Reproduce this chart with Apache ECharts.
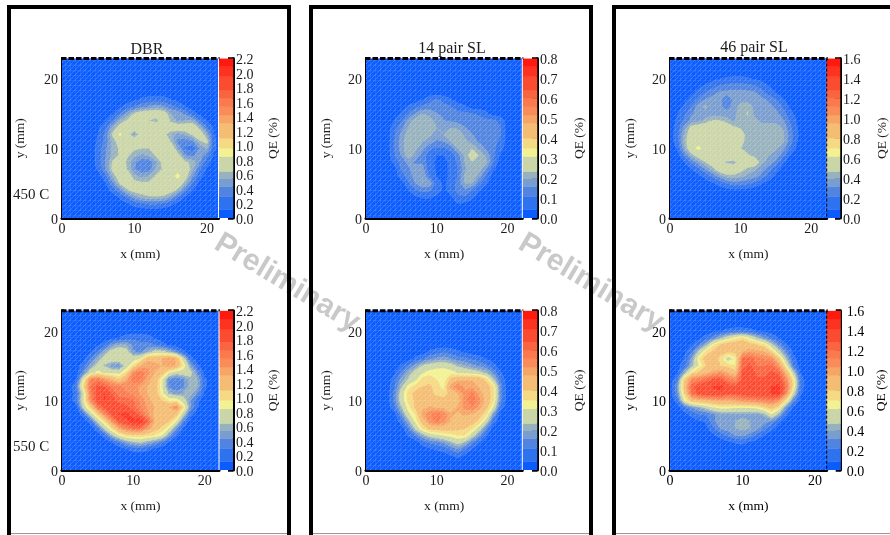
<!DOCTYPE html>
<html><head><meta charset="utf-8">
<style>html,body{margin:0;padding:0;background:#fff}#c{width:890px;height:535px}</style>
<script src="https://cdn.jsdelivr.net/npm/echarts@6/dist/echarts.min.js"></script>
</head><body><div id="c"></div>
<script>
// QE (%) samples. Each row: [y mm, first x mm, values at 1 mm steps...]; everything else is 0.
const qeDbr450 = [
[17,10,.08,.15,.2,.2,.2,.12,.05],
[16,8,.08,.2,.3,.4,.45,.5,.45,.35,.25,.12],
[15,7,.1,.3,.5,.66,.74,.76,.76,.74,.55,.52,.4,.2,.05],
[14,6,.1,.3,.55,.66,.76,.8,.64,.58,.78,.62,.52,.55,.55,.3,.1],
[13,5,.08,.25,.55,.72,.75,.75,.8,.8,.8,.8,.72,.75,.75,.78,.6,.3,.08],
[12,5,.12,.35,.66,.88,.7,.52,.75,.8,.78,.68,.58,.5,.55,.66,.75,.55,.12],
[11,5,.15,.35,.58,.72,.78,.78,.75,.72,.66,.72,.64,.4,.35,.4,.62,.68,.15],
[10,5,.2,.4,.58,.66,.66,.66,.64,.64,.74,.8,.78,.52,.28,.2,.45,.56,.15],
[9,5,.2,.42,.58,.66,.66,.58,.52,.56,.66,.78,.8,.7,.45,.4,.5,.35,.08],
[8,5,.2,.44,.66,.72,.62,.45,.34,.34,.52,.7,.8,.75,.66,.62,.45,.2],
[7,5,.15,.42,.68,.74,.64,.44,.34,.36,.56,.66,.78,.8,.74,.58,.3,.08],
[6,6,.25,.56,.74,.74,.58,.52,.56,.66,.66,.78,.88,.72,.45,.18],
[5,6,.1,.4,.66,.74,.68,.66,.66,.66,.75,.8,.78,.58,.3,.05],
[4,7,.2,.4,.62,.7,.72,.74,.78,.78,.72,.6,.35,.12],
[3,8,.15,.32,.5,.58,.62,.62,.6,.5,.3,.1],
[2,9,.08,.18,.25,.3,.3,.25,.15,.05]
];
const qeDbr550 = [
[19,7,.05,.12,.2,.25,.25,.2,.1],
[18,5,.08,.2,.45,.55,.55,.4,.32,.35,.3,.2,.08],
[17,4,.1,.3,.55,.72,.78,.72,.45,.4,.55,.7,.7,.6,.4,.15],
[16,3,.05,.3,.55,.72,.78,.8,.8,.75,.85,1.25,1.25,1.3,1.4,1.3,.75,.2],
[15,2,.03,.2,.5,.7,.62,.45,.42,.72,1.0,1.3,1.4,1.35,1.3,1.4,1.3,.95,.5,.15],
[14,3,.4,.75,.9,.8,.78,.78,1.0,1.5,1.6,1.45,1.3,1.2,.85,.7,.75,.7,.4,.05],
[13,2,.1,.85,1.55,1.6,1.45,1.3,1.1,1.35,1.6,1.6,1.35,1.25,.85,.4,.32,.4,.6,.55,.15],
[12,2,.3,1.0,1.65,1.8,1.75,1.6,1.55,1.5,1.45,1.4,1.3,1.2,.85,.4,.3,.4,.6,.55,.15],
[11,2,.2,.75,1.55,1.85,1.95,1.75,1.6,1.55,1.5,1.4,1.3,1.2,.9,.6,.5,.55,.6,.4,.08],
[10,2,.25,.8,1.5,1.85,1.95,1.85,1.7,1.7,1.65,1.5,1.35,1.25,1.1,.95,.95,.75,.45,.15],
[9,3,.7,1.05,1.6,1.8,1.85,1.85,1.8,1.7,1.55,1.4,1.3,1.2,1.3,1.5,1.0,.45,.12],
[8,3,.2,.7,1.05,1.5,1.8,1.95,2.0,1.85,1.7,1.45,1.25,1.2,1.25,1.15,.7,.2],
[7,4,.2,.7,1.0,1.45,1.8,1.9,2.0,2.05,1.75,1.3,1.2,1.1,.85,.35],
[6,5,.25,.7,1.0,1.35,1.55,1.65,1.65,1.4,1.2,1.05,.85,.45,.1],
[5,6,.2,.6,.85,1.0,1.05,1.05,1.0,.95,.85,.5,.15],
[4,7,.12,.3,.5,.6,.65,.55,.45,.3,.1],
[3,9,.1,.18,.2,.15,.05]
];
const qeSl14450 = [
[17,8,.04,.08,.12,.08,.05],
[16,6,.05,.09,.12,.14,.14,.13,.11,.08,.05],
[15,5,.05,.11,.16,.2,.18,.16,.15,.13,.12,.12,.11,.1,.06],
[14,4,.04,.1,.18,.22,.23,.22,.18,.16,.15,.14,.13,.12,.12,.12,.12,.09],
[13,4,.08,.14,.2,.22,.23,.23,.2,.17,.2,.19,.16,.14,.13,.12,.12,.11],
[12,4,.1,.17,.22,.23,.23,.21,.18,.2,.23,.23,.19,.16,.14,.13,.12,.11],
[11,4,.11,.18,.23,.23,.2,.18,.15,.16,.2,.23,.21,.18,.15,.13,.12,.1],
[10,4,.11,.18,.23,.21,.17,.12,.1,.1,.13,.2,.23,.23,.19,.15,.12,.07],
[9,4,.1,.16,.23,.18,.14,.07,.04,.04,.07,.14,.21,.26,.23,.19,.12,.03],
[8,4,.06,.13,.17,.15,.15,.06,.03,.03,.05,.12,.2,.23,.23,.21,.11],
[7,5,.11,.15,.18,.18,.07,.03,.03,.05,.11,.19,.23,.22,.15,.05],
[6,5,.08,.13,.18,.2,.1,.04,.03,.05,.11,.21,.23,.18,.1],
[5,6,.1,.16,.2,.19,.07,.03,.06,.13,.2,.2,.12,.05],
[4,6,.04,.1,.13,.12,.07,.03,.06,.13,.15,.11,.05],
[3,7,.03,.05,.05,.03,0,.03,.09,.1,.06],
[2,13,.04,.02]
];
const qeSl14550 = [
[17,9,.05,.08,.1,.08,.05,.03],
[16,7,.06,.1,.15,.17,.18,.16,.13,.12,.1,.07,.04],
[15,5,.05,.12,.18,.24,.26,.28,.28,.26,.22,.2,.17,.15,.12,.07],
[14,4,.03,.12,.2,.26,.3,.33,.34,.35,.33,.3,.28,.27,.25,.22,.15,.05],
[13,4,.07,.18,.24,.29,.37,.38,.35,.32,.42,.46,.47,.47,.46,.38,.24,.1],
[12,4,.1,.22,.33,.37,.4,.41,.37,.33,.5,.55,.5,.5,.47,.44,.36,.14],
[11,4,.12,.27,.37,.42,.42,.42,.38,.36,.43,.47,.53,.57,.5,.44,.37,.14],
[10,4,.12,.27,.36,.41,.43,.43,.44,.43,.42,.45,.54,.6,.53,.45,.36,.13],
[9,4,.09,.22,.33,.41,.46,.48,.47,.46,.45,.48,.53,.55,.5,.42,.3,.08],
[8,5,.15,.29,.35,.5,.55,.58,.55,.48,.47,.48,.47,.43,.36,.18],
[7,5,.07,.2,.32,.43,.53,.57,.53,.47,.46,.45,.43,.38,.27,.08],
[6,6,.12,.25,.36,.42,.43,.44,.43,.42,.4,.36,.28,.14],
[5,6,.05,.12,.2,.26,.29,.31,.33,.35,.35,.27,.17,.05],
[4,8,.08,.12,.14,.17,.22,.26,.22,.13,.05],
[3,9,.03,.05,.07,.12,.16,.1,.04],
[2,12,.03,.06,.02]
];
const qeSl46450 = [
[20,6,.03,.08,.1,.12,.12,.1,.07,.03],
[19,4,.05,.1,.16,.22,.24,.26,.26,.24,.22,.16,.08],
[18,3,.05,.12,.22,.28,.33,.34,.35,.35,.34,.33,.26,.16,.08],
[17,2,.05,.12,.24,.32,.35,.35,.24,.33,.36,.36,.35,.34,.3,.22,.1],
[16,1,.03,.1,.22,.36,.42,.36,.34,.28,.34,.44,.46,.37,.35,.34,.3,.2,.06],
[15,1,.07,.18,.3,.35,.36,.36,.35,.35,.36,.45,.47,.38,.35,.35,.34,.27,.13,.03],
[14,1,.1,.24,.34,.37,.42,.47,.47,.44,.38,.45,.46,.42,.38,.38,.37,.33,.2,.07],
[13,1,.14,.34,.5,.53,.54,.55,.56,.52,.48,.46,.45,.44,.43,.43,.44,.39,.25,.09],
[12,1,.16,.4,.54,.56,.57,.57,.57,.56,.55,.5,.44,.42,.42,.42,.42,.42,.28,.1],
[11,1,.15,.42,.55,.57,.57,.57,.57,.56,.55,.5,.43,.42,.42,.42,.42,.42,.27,.09],
[10,1,.09,.38,.56,.64,.57,.57,.57,.56,.55,.47,.42,.42,.42,.42,.41,.35,.2,.05],
[9,2,.24,.42,.52,.56,.57,.57,.56,.56,.53,.48,.44,.42,.4,.37,.26,.08],
[8,2,.07,.23,.36,.46,.53,.55,.45,.43,.52,.55,.54,.42,.36,.29,.11],
[7,3,.07,.18,.31,.42,.54,.56,.55,.5,.44,.41,.35,.27,.13,.03],
[6,4,.04,.13,.24,.35,.43,.44,.42,.38,.35,.28,.16,.05],
[5,6,.06,.13,.22,.28,.27,.24,.18,.09,.02],
[4,8,.03,.05,.05,.03]
];
const qeSl46550 = [
[20,6,.03,.08,.12,.15,.15,.12,.08,.04],
[19,4,.05,.14,.28,.42,.55,.65,.72,.6,.45,.32,.2,.08],
[18,3,.08,.22,.42,.68,.82,.88,.9,.95,.85,.8,.72,.5,.3,.1],
[17,2,.05,.2,.5,.72,.82,.85,.8,.82,.95,1.02,.98,.95,.78,.52,.28,.06],
[16,2,.1,.35,.68,.88,.86,.75,.52,.65,1.2,1.25,1.15,1.1,1.1,.82,.45,.12],
[15,1,.03,.15,.42,.62,.8,.82,.8,.75,.7,1.25,1.3,1.2,1.2,1.22,1.05,.65,.22],
[14,1,.05,.4,.72,.82,.9,1.0,1.05,.95,.85,1.3,1.38,1.25,1.25,1.3,1.25,.92,.5,.08],
[13,1,.2,.8,1.1,1.15,1.22,1.3,1.3,1.15,1.1,1.3,1.4,1.3,1.3,1.32,1.35,1.1,.7,.15],
[12,1,.32,.85,1.25,1.35,1.38,1.42,1.45,1.35,1.3,1.38,1.42,1.38,1.38,1.42,1.45,1.2,.72,.15],
[11,1,.28,.78,1.2,1.32,1.38,1.4,1.4,1.3,1.3,1.35,1.38,1.38,1.38,1.42,1.45,1.1,.55,.1],
[10,1,.15,.62,.85,.9,.92,.95,.98,.95,1.0,1.05,1.08,1.1,1.12,1.15,1.05,.72,.28,.03],
[9,2,.2,.32,.4,.5,.6,.65,.65,.62,.62,.62,.65,.75,.85,.72,.32,.06],
[8,2,.03,.12,.22,.22,.3,.36,.36,.38,.38,.38,.36,.42,.6,.42,.12],
[7,3,.03,.06,.1,.3,.36,.38,.4,.42,.4,.38,.35,.3,.12],
[6,5,.05,.2,.33,.36,.4,.42,.4,.35,.25,.12,.03],
[5,6,.06,.15,.24,.32,.34,.28,.18,.08],
[4,8,.05,.1,.12,.07,.02]
];
const seriesTitles = ['DBR','14 pair SL','46 pair SL'];
const rowLabels = ['450 C','550 C'];
const barMax = [2.2,2.2,.8,.8,1.6,1.6];
const barLabels = [
 [0,.2,.4,.6,.8,1,1.2,1.4,1.6,1.8,2,2.2],[0,.2,.4,.6,.8,1,1.2,1.4,1.6,1.8,2,2.2],
 [0,.1,.2,.3,.4,.5,.6,.7,.8],[0,.1,.2,.3,.4,.5,.6,.7,.8],
 [0,.2,.4,.6,.8,1,1.2,1.4,1.6],[0,.2,.4,.6,.8,1,1.2,1.4,1.6]];
const xTicks = [0,10,20];
const yTicks = [0,10,20];
// colour scale: band upper limits as a share of the colour bar, and band colours
const bandTop = [.052,.135,.198,.25,.292,.385,.4375,.5,.594,.646,.698,.75,.802,.885,.948,1];
const bandColor = ['#0b5cff','#2f72f0','#5084e0','#7a9dd0','#97b2bd','#cbd6a8','#f2f293','#f6d983','#f5bd74','#f7a566','#f98c58','#fa7a4e','#fb6440','#fc4c30','#fe3220','#ff1a10'];

const layout = [
 {l:62,r:218.5,bar:233,t:58.5,b:218,xMax:21.6,lm:3,qe:40,yn:42,ink:'#1c1c1c'},
 {l:62,r:219,bar:233,t:310.7,b:470,xMax:22,lm:3,qe:40,yn:42,ink:'#1c1c1c'},
 {l:366,r:522.3,bar:537,t:58.5,b:218,xMax:22.1,lm:3,qe:42,yn:40,ink:'#1c1c1c'},
 {l:366,r:522.3,bar:537,t:310.7,b:470,xMax:22.1,lm:3,qe:42,yn:40,ink:'#1c1c1c'},
 {l:670,r:826.7,bar:840.7,t:58.5,b:218,xMax:22.2,lm:3,qe:42,yn:40,ink:'#1c1c1c'},
 {l:670,r:826.7,bar:840.7,t:310.7,b:470,xMax:21.6,lm:6,qe:41,yn:40,ink:'#000'}
];
const sources = [qeDbr450,qeDbr550,qeSl14450,qeSl14550,qeSl46450,qeSl46550];
const FONT = '"Liberation Serif","Times New Roman",serif';
const INK = '#1c1c1c';

function toGrid(rows){
  const g = [];
  for(let y=0;y<=23;y++){g.push(new Array(24).fill(0));}
  rows.forEach(r=>{for(let i=2;i<r.length;i++){g[r[0]][r[1]+i-2]=r[i];}});
  return g;
}
function cellsOf(g){
  const out=[];
  for(let y=0;y<23;y++)for(let x=0;x<23;x++){
    out.push([x,y,g[y][x],g[y][x+1],g[y+1][x+1],g[y+1][x]]);
  }
  return out;
}
// clip a polygon [[x,y,v],...] to v>=lim (sign=1) or v<=lim (sign=-1)
function clip(poly,lim,sign){
  const out=[];
  for(let i=0;i<poly.length;i++){
    const p=poly[i],q=poly[(i+1)%poly.length];
    const pi=(p[2]-lim)*sign>=0, qi=(q[2]-lim)*sign>=0;
    if(pi)out.push(p);
    if(pi!==qi){
      const t=(lim-p[2])/(q[2]-p[2]);
      out.push([p[0]+t*(q[0]-p[0]),p[1]+t*(q[1]-p[1]),lim]);
    }
  }
  return out;
}
function cellRenderer(max){
  const limits=bandTop.map(f=>f*max);
  return function(params,api){
    const x=api.value(0),y=api.value(1);
    const base=[[x,y,api.value(2)],[x+1,y,api.value(3)],[x+1,y+1,api.value(4)],[x,y+1,api.value(5)]];
    const vals=base.map(p=>p[2]);
    const lo=Math.min.apply(null,vals),hi=Math.max.apply(null,vals);
    const children=[];
    for(let k=0;k<limits.length;k++){
      const a=k?limits[k-1]:-1, b=k===limits.length-1?1e9:limits[k];
      if(hi<a||lo>b)continue;
      let poly=clip(base,a,1);
      if(poly.length)poly=clip(poly,b,-1);
      if(poly.length<3)continue;
      children.push({type:'polygon',silent:true,
        shape:{points:poly.map(p=>api.coord([p[0],p[1]]))},
        style:{fill:bandColor[k],stroke:bandColor[k],lineWidth:.7}});
    }
    return {type:'group',children:children};
  };
}
function makeTexture(){
  const c=document.createElement('canvas');c.width=5;c.height=5;
  const n=c.getContext('2d');
  n.strokeStyle='rgba(255,255,255,.16)';n.lineWidth=1;
  n.beginPath();n.moveTo(0,0);n.lineTo(0,5);n.stroke();
  n.strokeStyle='rgba(255,255,255,.07)';
  n.beginPath();n.moveTo(0,.5);n.lineTo(5,.5);n.stroke();
  n.strokeStyle='rgba(255,255,255,.18)';
  n.beginPath();n.moveTo(0,5);n.lineTo(5,0);n.stroke();
  return c;
}
const texture=makeTexture();

const grids=[],xAxes=[],yAxes=[],series=[],graphic=[];
layout.forEach((p,i)=>{
  const axisText={fontFamily:FONT,fontSize:14,color:p.ink};
  const shifted={a:{fontFamily:FONT,fontSize:14,color:p.ink,padding:[4,0,0,0]}};
  const nameText={fontFamily:FONT,fontSize:13.5,color:p.ink};
  const ig=grids.length;
  const h=p.b-p.t;
  grids.push({left:p.l,top:p.t,width:p.r-p.l,height:h,containLabel:false});
  grids.push({left:p.r,top:p.t,width:p.bar-p.r,height:h,containLabel:false});
  xAxes.push({gridIndex:ig,type:'value',min:0,max:p.xMax,interval:10,
    axisLine:{show:true,onZero:false,lineStyle:{color:'#000',width:3}},
    axisTick:{show:true,inside:true,length:3,lineStyle:{color:'#000',width:2},customValues:xTicks},
    axisLabel:{...axisText,margin:4,customValues:xTicks,hideOverlap:false},
    splitLine:{show:false},name:'x (mm)',nameLocation:'middle',nameGap:29,nameTextStyle:nameText});
  yAxes.push({gridIndex:ig,type:'value',min:0,max:22.9,interval:10,
    axisLine:{show:true,onZero:false,lineStyle:{color:'#000',width:3}},
    axisTick:{show:true,inside:true,length:6,lineStyle:{color:'#000',width:2.5},customValues:yTicks},
    axisLabel:{...axisText,margin:4,customValues:yTicks,hideOverlap:false,formatter:v=>'{a|'+v+'}',rich:shifted},
    splitLine:{show:false},name:'y (mm)',nameLocation:'middle',nameGap:p.yn-7,nameTextStyle:nameText});
  xAxes.push({gridIndex:ig+1,type:'value',min:0,max:1,show:false});
  yAxes.push({gridIndex:ig+1,type:'value',position:'right',min:0,max:barMax[i],
    axisLine:{show:true,onZero:false,lineStyle:{color:'#000',width:3}},
    axisTick:{show:true,inside:true,length:5,lineStyle:{color:'#000',width:2.5},customValues:barLabels[i]},
    axisLabel:{...axisText,margin:p.lm,customValues:barLabels[i],formatter:v=>'{a|'+Number(v).toFixed(1)+'}',rich:shifted,hideOverlap:false},
    splitLine:{show:false},name:'QE (%)',nameLocation:'middle',nameRotate:90,nameGap:p.qe-7,nameTextStyle:nameText});
  series.push({type:'custom',coordinateSystem:'cartesian2d',xAxisIndex:ig,yAxisIndex:ig,clip:true,silent:true,animation:false,
    data:cellsOf(toGrid(sources[i])),encode:{x:0,y:1},renderItem:cellRenderer(barMax[i]),z:1});
  series.push({type:'custom',coordinateSystem:'cartesian2d',xAxisIndex:ig,yAxisIndex:ig,clip:true,silent:true,animation:false,
    data:[[0,0]],encode:{x:0,y:1},z:2,renderItem:(pp,api)=>{
      const a=api.coord([0,22.9]),b=api.coord([p.xMax,0]);
      return {type:'rect',silent:true,shape:{x:a[0],y:a[1],width:b[0]-a[0],height:b[1]-a[1]},style:{fill:{image:texture,repeat:'repeat'}}};
    }});
  const barData=bandTop.map((f,k)=>[(k?bandTop[k-1]:0)*barMax[i],f*barMax[i],k]);
  series.push({type:'custom',coordinateSystem:'cartesian2d',xAxisIndex:ig+1,yAxisIndex:ig+1,clip:true,silent:true,animation:false,
    data:barData,encode:{y:[0,1]},z:1,renderItem:(pp,api)=>{
      const a=api.coord([0,api.value(1)]),b=api.coord([1,api.value(0)]);
      const c=bandColor[api.value(2)];
      return {type:'rect',silent:true,shape:{x:a[0],y:a[1],width:b[0]-a[0],height:b[1]-a[1]},style:{fill:c,stroke:c,lineWidth:.5}};
    }});
  graphic.push({type:'line',silent:true,z:60,shape:{x1:p.l-1,y1:p.t,x2:p.r+1,y2:p.t},style:{stroke:'#000',lineWidth:3,lineDash:[5.5,2]}});
  if(i>=4)graphic.push({type:'line',silent:true,z:60,shape:{x1:p.r,y1:p.t,x2:p.r,y2:p.b},style:{stroke:'#000',lineWidth:1,lineDash:[3,2]}});
  else graphic.push({type:'line',silent:true,z:60,shape:{x1:p.r,y1:p.t,x2:p.r,y2:p.b},style:{stroke:'#fff',lineWidth:1}});
});
const titleAt=[[147,50],[452,49],[754,48]];
seriesTitles.forEach((t,i)=>graphic.push({type:'text',silent:true,z:60,x:titleAt[i][0],y:titleAt[i][1],
  style:{text:t,fontFamily:FONT,fontSize:16,fill:INK,textAlign:'center',textVerticalAlign:'middle'}}));
const rowY=[195,447];
rowLabels.forEach((t,i)=>graphic.push({type:'text',silent:true,z:60,x:13,y:rowY[i],
  style:{text:t,fontFamily:FONT,fontSize:15,fill:INK,textAlign:'left',textVerticalAlign:'middle'}}));
[[287,283],[591,283]].forEach(c=>graphic.push({type:'text',silent:true,z:55,x:c[0],y:c[1],rotation:-31*Math.PI/180,
  style:{text:'Preliminary',fontFamily:'"Liberation Sans",Arial,sans-serif',fontWeight:'bold',fontSize:30,fill:'#c9c9c9',textAlign:'center',textVerticalAlign:'middle'}}));
[[7,291],[309,593],[612,894]].forEach(f=>{
  const bars=[[f[0],5,f[1]-f[0],4],[f[0],5,4,530],[f[1]-4,5,4,530]];
  bars.forEach(b=>graphic.push({type:'rect',silent:true,z:58,shape:{x:b[0],y:b[1],width:b[2],height:b[3]},style:{fill:'#000'}}));
  graphic.push({type:'rect',silent:true,z:57,shape:{x:f[0]+4,y:533,width:f[1]-f[0]-8,height:1},style:{fill:'#999'}});
});

const chart=echarts.init(document.getElementById('c'),null,{renderer:'canvas',width:890,height:535});
chart.setOption({animation:false,backgroundColor:'#fff',grid:grids,xAxis:xAxes,yAxis:yAxes,series:series,graphic:{elements:graphic}});
</script></body></html>
